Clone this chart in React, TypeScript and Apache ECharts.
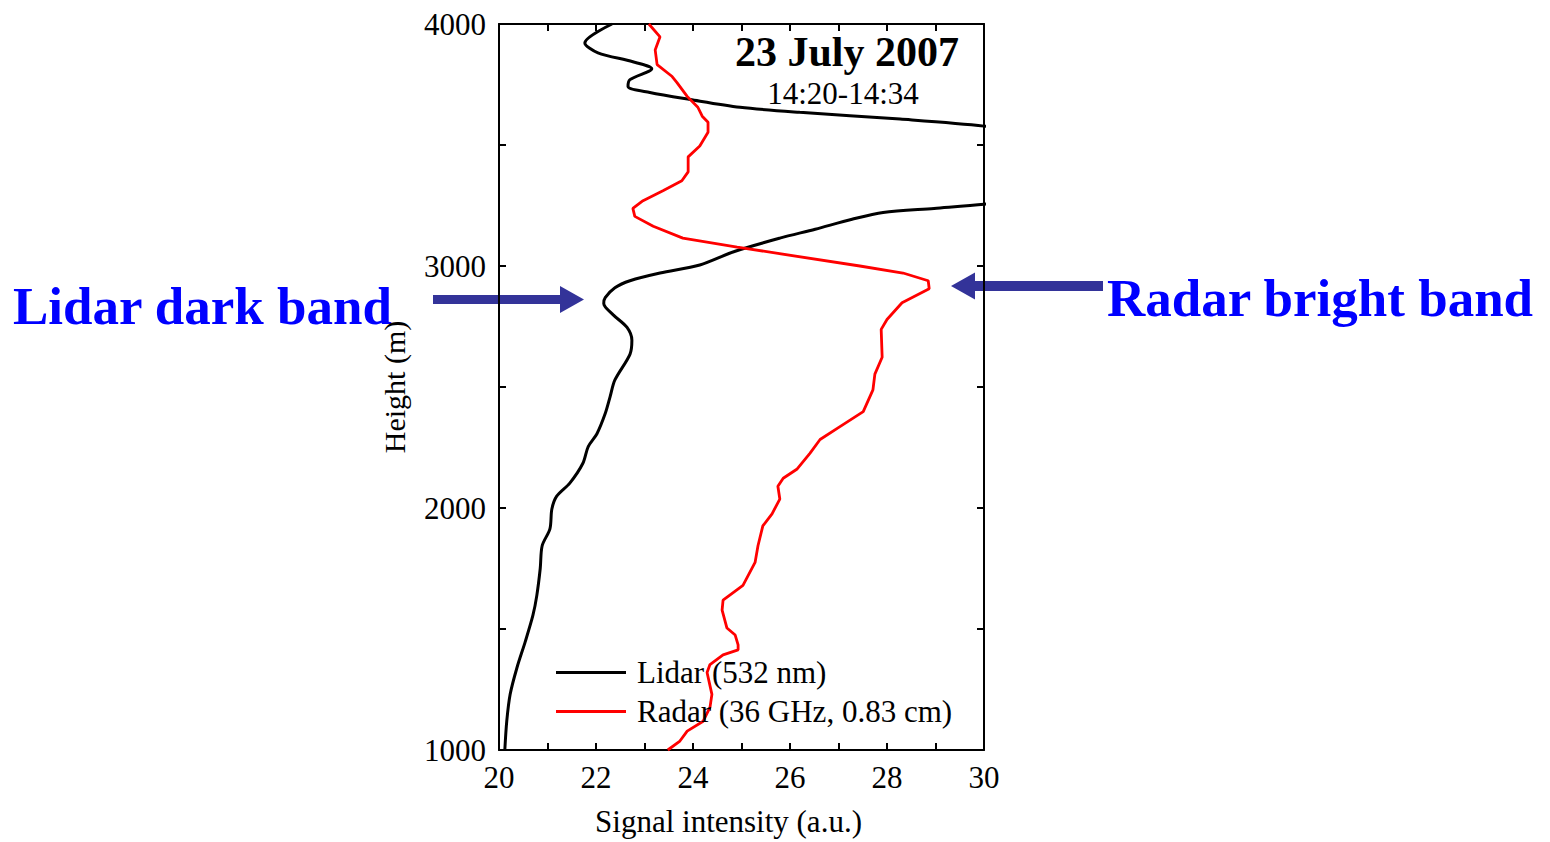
import React, { useEffect, useRef } from "react";
import * as echarts from "echarts";

const FONT = '"Liberation Serif", "Times New Roman", serif';

const lidarHeight = [4000, 3922, 3881, 3844, 3815, 3770, 3742, 3717, 3688, 3656, 3635, 3607, 3578, 3500, 3400, 3300, 3255, 3238, 3221, 3193, 3152, 3115, 3061, 3004, 2971, 2939, 2910, 2869, 2845, 2799, 2746, 2693, 2635, 2529, 2459, 2390, 2307, 2254, 2185, 2103, 2049, 1996, 1914, 1844, 1750, 1639, 1557, 1447, 1340, 1230, 1119, 1000];
const lidarSignal = [22.33, 21.77, 22.04, 22.76, 23.15, 22.7, 22.66, 23.11, 23.94, 24.97, 26.2, 28.27, 30, 33, 35, 32, 30, 28.97, 27.92, 27.28, 26.52, 25.79, 24.87, 24.14, 23.32, 22.7, 22.39, 22.19, 22.16, 22.35, 22.64, 22.74, 22.7, 22.39, 22.29, 22.19, 22.02, 21.84, 21.73, 21.46, 21.19, 21.09, 21.05, 20.89, 20.85, 20.78, 20.7, 20.54, 20.37, 20.23, 20.16, 20.12];

const radarHeight = [4000, 3947, 3893, 3832, 3783, 3758, 3701, 3656, 3619, 3594, 3553, 3496, 3451, 3389, 3352, 3311, 3270, 3238, 3205, 3164, 3115, 3078, 3000, 2971, 2939, 2906, 2848, 2779, 2738, 2623, 2553, 2488, 2398, 2336, 2283, 2226, 2160, 2123, 2090, 2037, 1976, 1926, 1844, 1775, 1680, 1619, 1578, 1504, 1475, 1434, 1414, 1393, 1353, 1320, 1230, 1176, 1119, 1078, 1037, 1000];
const radarSignal = [23.09, 23.32, 23.22, 23.26, 23.57, 23.67, 23.88, 24.1, 24.19, 24.31, 24.31, 24.14, 23.9, 23.9, 23.77, 23.38, 22.97, 22.76, 22.8, 23.18, 23.79, 24.91, 27.44, 28.33, 28.85, 28.87, 28.31, 28.0, 27.88, 27.9, 27.75, 27.71, 27.51, 27.03, 26.62, 26.41, 26.14, 25.86, 25.75, 25.79, 25.63, 25.44, 25.34, 25.28, 25.03, 24.62, 24.6, 24.7, 24.87, 24.93, 24.93, 24.62, 24.35, 24.29, 24.39, 24.35, 24.21, 23.88, 23.73, 23.48];

const seriesNames = ["Lidar (532 nm)", "Radar (36 GHz, 0.83 cm)"];
const titleText = "23 July 2007";
const subtitleText = "14:20-14:34";
const xAxisName = "Signal intensity (a.u.)";
const yAxisName = "Height (m)";
const leftNote = "Lidar dark band";
const rightNote = "Radar bright band";

const pairs = (xs: number[], ys: number[]) => xs.map((x, i) => [x, ys[i]]);

export default function App() {
  const ref = useRef<HTMLDivElement>(null);
  useEffect(() => {
    const chart = echarts.init(ref.current!, null, { renderer: "svg" });
    const axisLine = { show: true, lineStyle: { color: "#000", width: 2 } };
    const tick = { show: true, inside: true, length: 7, lineStyle: { color: "#000", width: 2 } };
    const minor = { show: true, splitNumber: 2, length: 7, lineStyle: { color: "#000", width: 2 } };
    const arrowColor = "#333399";
    chart.setOption({
      animation: false,
      backgroundColor: "#fff",
      grid: { left: 499, top: 24, right: 566, bottom: 86 },
      legend: {
        data: seriesNames,
        orient: "vertical",
        left: 556,
        top: 657,
        padding: 0,
        icon: "rect",
        itemWidth: 70,
        itemHeight: 3,
        itemGap: 8,
        textStyle: { fontFamily: FONT, fontSize: 31, color: "#000", lineHeight: 31, padding: [0, 0, 0, 6] },
      },
      xAxis: [
        {
          type: "value",
          min: 20,
          max: 30,
          interval: 2,
          position: "bottom",
          axisLine,
          axisTick: tick,
          minorTick: minor,
          splitLine: { show: false },
          axisLabel: { fontFamily: FONT, fontSize: 31, color: "#000", margin: 12 },
          name: xAxisName,
          nameLocation: "middle",
          nameGap: 56,
          nameTextStyle: { fontFamily: FONT, fontSize: 31, color: "#000", padding: [0, 26, 0, 0] },
        },
        {
          type: "value",
          min: 20,
          max: 30,
          interval: 2,
          position: "top",
          axisLine,
          axisTick: tick,
          minorTick: minor,
          splitLine: { show: false },
          axisLabel: { show: false },
        },
      ],
      yAxis: [
        {
          type: "value",
          min: 1000,
          max: 4000,
          interval: 1000,
          position: "left",
          axisLine,
          axisTick: tick,
          minorTick: minor,
          splitLine: { show: false },
          axisLabel: { fontFamily: FONT, fontSize: 31, color: "#000", margin: 13, formatter: (v: number) => String(v) },
          name: yAxisName,
          nameLocation: "middle",
          nameRotate: 90,
          nameGap: 90,
          nameTextStyle: { fontFamily: FONT, fontSize: 30, color: "#000" },
        },
        {
          type: "value",
          min: 1000,
          max: 4000,
          interval: 1000,
          position: "right",
          axisLine,
          axisTick: tick,
          minorTick: minor,
          splitLine: { show: false },
          axisLabel: { show: false },
        },
      ],
      series: [
        {
          name: seriesNames[0],
          type: "line",
          data: pairs(lidarSignal, lidarHeight),
          symbol: "none",
          smooth: 0.3,
          clip: true,
          lineStyle: { color: "#000", width: 3 },
          itemStyle: { color: "#000" },
        },
        {
          name: seriesNames[1],
          type: "line",
          data: pairs(radarSignal, radarHeight),
          symbol: "none",
          clip: true,
          lineStyle: { color: "#ff0000", width: 2.8 },
          itemStyle: { color: "#ff0000" },
        },
      ],
      graphic: [
        {
          type: "text",
          x: 847,
          y: 52,
          style: { text: titleText, font: `bold 42px ${FONT}`, fill: "#000", align: "center", verticalAlign: "middle" },
        },
        {
          type: "text",
          x: 843,
          y: 93,
          style: { text: subtitleText, font: `31px ${FONT}`, fill: "#000", align: "center", verticalAlign: "middle" },
        },
        {
          type: "text",
          x: 13,
          y: 306,
          style: { text: leftNote, font: `bold 53px ${FONT}`, fill: "#0000ff", align: "left", verticalAlign: "middle" },
        },
        {
          type: "text",
          x: 1107,
          y: 298,
          style: { text: rightNote, font: `bold 53px ${FONT}`, fill: "#0000ff", align: "left", verticalAlign: "middle" },
        },
        {
          type: "polygon",
          shape: {
            points: [
              [433, 295], [560, 295], [560, 286], [584, 299.5], [560, 313], [560, 304], [433, 304],
            ],
          },
          style: { fill: arrowColor },
        },
        {
          type: "polygon",
          shape: {
            points: [
              [1103, 281], [975, 281], [975, 272.5], [951, 286], [975, 299.5], [975, 291], [1103, 291],
            ],
          },
          style: { fill: arrowColor },
        },
      ],
    });
    return () => chart.dispose();
  }, []);
  return <div ref={ref} style={{ position: "fixed", left: 0, top: 0, width: 1550, height: 842 }} />;
}
